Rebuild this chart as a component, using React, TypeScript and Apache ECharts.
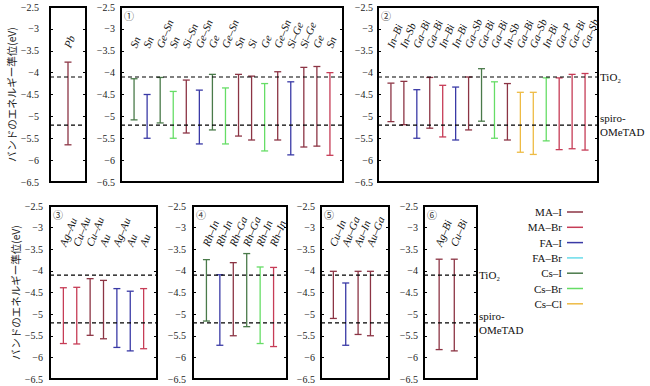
import React, { useEffect, useRef } from "react";
import * as echarts from "echarts";

// ---------- data ----------
const typeNames = ["MA-I", "MA-Br", "FA-I", "FA-Br", "Cs-I", "Cs-Br", "Cs-Cl"];
const legendLabels = ["MA–I", "MA–Br", "FA–I", "FA–Br", "Cs–I", "Cs–Br", "Cs–Cl"];
const typeColors = ["#8c3444", "#c63c56", "#3a3aa6", "#6adcea", "#4a7a4a", "#66dd66", "#eebb44"];

const yMin = -6.5;
const yMax = -2.5;
const yStep = 0.5;
const tio2Level = -4.1;
const spiroLevel = -5.2;
const labelLevel = -3.42;

const pbLabels = ["Pb"];
const pbHigh = [-3.76];
const pbLow = [-5.65];
const pbTypes = ["MA-I"];

const p1Labels = ["Sn", "Sn", "Ge–Sn", "Sn", "Si–Sn", "Ge–Sn", "Ge", "Ge–Sn", "Sn", "Si", "Ge", "Ge–Sn", "Si–Ge", "Si–Ge", "Ge", "Sn"];
const p1High = [-4.14, -4.5, -4.11, -4.43, -4.17, -4.4, -4.04, -4.35, -4.04, -4.08, -4.25, -3.98, -4.21, -3.88, -3.86, -4.0];
const p1Low = [-5.08, -5.5, -5.15, -5.5, -5.38, -5.63, -5.31, -5.63, -5.45, -5.54, -5.79, -5.54, -5.88, -5.7, -5.68, -5.89];
const p1Types = ["Cs-I", "FA-I", "Cs-I", "Cs-Br", "MA-I", "FA-I", "Cs-I", "Cs-Br", "MA-I", "MA-I", "Cs-Br", "MA-I", "FA-I", "MA-I", "MA-I", "MA-Br"];

const p2Labels = ["In–Bi", "In–Sb", "Ga–Bi", "Ga–Bi", "In–Bi", "In–Bi", "Ga–Sb", "Ga–Bi", "Ga–Bi", "In–Sb", "Ga–Bi", "Ga–Sb", "In–Bi", "Ga–P", "Ga–Bi", "Ga–Sb"];
const p2High = [-4.24, -4.2, -4.39, -4.11, -4.29, -4.33, -4.1, -3.91, -4.21, -4.25, -4.45, -4.45, -4.12, -4.12, -4.04, -4.02];
const p2Low = [-5.12, -5.19, -5.5, -5.27, -5.47, -5.54, -5.31, -5.11, -5.5, -5.54, -5.82, -5.87, -5.56, -5.76, -5.74, -5.77];
const p2Types = ["MA-I", "MA-I", "FA-I", "MA-I", "MA-Br", "FA-I", "MA-I", "Cs-I", "Cs-Br", "MA-I", "Cs-Cl", "Cs-Cl", "Cs-Br", "MA-Br", "MA-Br", "MA-Br"];

const p3Labels = ["Ag–Au", "Cu–Au", "Cu–Au", "Au", "Ag–Au", "Au", "Au"];
const p3High = [-4.39, -4.38, -4.18, -4.22, -4.41, -4.47, -4.41];
const p3Low = [-5.68, -5.69, -5.49, -5.57, -5.77, -5.85, -5.8];
const p3Types = ["MA-Br", "MA-Br", "MA-I", "MA-I", "FA-I", "FA-I", "MA-Br"];

const p4Labels = ["Rh–In", "Rh–In", "Rh–Ga", "Rh–Ga", "Rh–In", "Rh–In"];
const p4High = [-3.74, -4.09, -3.81, -3.6, -3.91, -3.92];
const p4Low = [-5.16, -5.72, -5.5, -5.29, -5.68, -5.75];
const p4Types = ["Cs-I", "FA-I", "MA-I", "Cs-I", "Cs-Br", "MA-Br"];

const p5Labels = ["Cu–In", "Au–Ga", "Au–In", "Au–Ga"];
const p5High = [-4.01, -4.28, -4.01, -4.01];
const p5Low = [-5.1, -5.72, -5.47, -5.5];
const p5Types = ["MA-I", "FA-I", "MA-I", "MA-I"];

const p6Labels = ["Ag–Bi", "Cu–Bi"];
const p6High = [-3.73, -3.73];
const p6Low = [-5.82, -5.85];
const p6Types = ["MA-I", "MA-I"];

const panelMarks = ["", "①", "②", "③", "④", "⑤", "⑥"];
const yTitle = "バンドのエネルギー準位(eV)";

// ---------- layout ----------
const gridBoxes = [
  { left: 50, top: 7, width: 36, height: 175 },
  { left: 121, top: 7, width: 222, height: 175 },
  { left: 378, top: 7, width: 220, height: 175 },
  { left: 50, top: 206, width: 107, height: 173 },
  { left: 193, top: 206, width: 94, height: 173 },
  { left: 321, top: 206, width: 68, height: 173 },
  { left: 424, top: 206, width: 53, height: 173 },
];
const xMaxes = [2, 17, 17, 8, 7, 5.5, 3.5];
const labelMargins = [11, 6, 5, 7, 7, 6, 6];
const levelLabelPanels = [2, 6];

const SERIF = "'Liberation Serif', 'DejaVu Serif', serif";
const CJK = "'Noto Sans CJK JP', sans-serif";
const LABEL_ANGLE = (68 * Math.PI) / 180;

function colorOf(t: string) {
  return typeColors[typeNames.indexOf(t)];
}

function makeRender(labels: string[], types: string[]) {
  return (params: any, api: any) => {
    const i = params.dataIndex;
    const x = api.value(0);
    const top = api.coord([x, api.value(2)]);
    const bot = api.coord([x, api.value(1)]);
    const lp = api.coord([x, labelLevel]);
    const c = colorOf(types[i]);
    const hw = 3.5;
    const ls = { stroke: c, lineWidth: 1.3 };
    return {
      type: "group",
      children: [
        { type: "line", shape: { x1: top[0], y1: top[1], x2: bot[0], y2: bot[1] }, style: ls },
        { type: "line", shape: { x1: top[0] - hw, y1: top[1], x2: top[0] + hw, y2: top[1] }, style: ls },
        { type: "line", shape: { x1: bot[0] - hw, y1: bot[1], x2: bot[0] + hw, y2: bot[1] }, style: ls },
        {
          type: "text",
          x: lp[0] - 1,
          y: lp[1],
          rotation: LABEL_ANGLE,
          style: {
            text: labels[i],
            fill: "#111",
            font: `italic 11px ${SERIF}`,
            align: "left",
            verticalAlign: "middle",
          },
        },
      ],
    };
  };
}

export default function App() {
  const ref = useRef<HTMLDivElement>(null);

  useEffect(() => {
    if (!ref.current) return;
    const chart = echarts.init(ref.current, undefined, { renderer: "svg" });

    const panels = [
      [pbLabels, pbHigh, pbLow, pbTypes],
      [p1Labels, p1High, p1Low, p1Types],
      [p2Labels, p2High, p2Low, p2Types],
      [p3Labels, p3High, p3Low, p3Types],
      [p4Labels, p4High, p4Low, p4Types],
      [p5Labels, p5High, p5Low, p5Types],
      [p6Labels, p6High, p6Low, p6Types],
    ] as [string[], number[], number[], string[]][];

    const grid = gridBoxes.map((b) => ({
      ...b,
      show: true,
      borderColor: "#000",
      borderWidth: 2,
      backgroundColor: "transparent",
      containLabel: false,
    }));

    const xAxis = xMaxes.map((m, g) => ({
      type: "value",
      gridIndex: g,
      min: 0,
      max: m,
      show: false,
    }));

    const yAxis: any[] = [];
    gridBoxes.forEach((_, g) => {
      yAxis.push({
        type: "value",
        gridIndex: g,
        position: "left",
        min: yMin,
        max: yMax,
        interval: yStep,
        axisLine: { show: false },
        axisTick: { show: true, inside: true, length: 3, lineStyle: { color: "#000", width: 1 } },
        axisLabel: {
          show: true,
          margin: labelMargins[g],
          fontFamily: SERIF,
          fontSize: 10,
          color: "#222",
          formatter: (v: number) => String(v).replace("-", "−"),
        },
        splitLine: { show: false },
        name: g === 0 || g === 3 ? yTitle : "",
        nameLocation: "middle",
        nameGap: 28,
        nameTextStyle: { fontFamily: CJK, fontSize: 10.5, color: "#222" },
      });
      yAxis.push({
        type: "value",
        gridIndex: g,
        position: "right",
        min: yMin,
        max: yMax,
        interval: yStep,
        axisLine: { show: false },
        axisTick: { show: true, inside: true, length: 3, lineStyle: { color: "#000", width: 1 } },
        axisLabel: { show: false },
        splitLine: { show: false },
      });
    });

    const series: any[] = [];
    panels.forEach(([labels, high, low, types], g) => {
      series.push({
        type: "custom",
        xAxisIndex: g,
        yAxisIndex: 2 * g,
        clip: false,
        silent: true,
        renderItem: makeRender(labels, types),
        data: labels.map((_, i) => [i + 1, low[i], high[i]]),
        encode: { x: 0, y: [1, 2] },
      });
      const withLabels = levelLabelPanels.indexOf(g) >= 0;
      [
        [tio2Level, "TiO₂"],
        [spiroLevel, "spiro-\nOMeTAD"],
      ].forEach(([lvl, txt]) => {
        series.push({
          type: "line",
          xAxisIndex: g,
          yAxisIndex: 2 * g,
          silent: true,
          symbol: "none",
          data: [
            [0, lvl],
            [xMaxes[g], lvl],
          ],
          lineStyle: { color: "#000", width: 1.2, type: [4, 3] },
          endLabel: withLabels
            ? {
                show: true,
                formatter: txt as string,
                distance: 2,
                fontFamily: SERIF,
                fontSize: 11,
                lineHeight: 14,
                color: "#111",
                align: "left",
              }
            : { show: false },
        });
      });
    });

    const graphic: any[] = [];
    panelMarks.forEach((m, g) => {
      if (!m) return;
      graphic.push({
        type: "text",
        left: gridBoxes[g].left + 3,
        top: gridBoxes[g].top + 3,
        style: { text: m, font: `10px ${CJK}`, fill: "#333" },
      });
    });
    legendLabels.forEach((name, i) => {
      const y = 212 + i * 15.3;
      graphic.push({
        type: "text",
        x: 562,
        y,
        style: { text: name, font: `11px ${SERIF}`, fill: "#111", align: "right", verticalAlign: "middle" },
      });
      graphic.push({
        type: "line",
        shape: { x1: 567, y1: y, x2: 583, y2: y },
        style: { stroke: typeColors[i], lineWidth: 1.5 },
      });
    });

    chart.setOption({
      animation: false,
      backgroundColor: "#fff",
      grid,
      xAxis,
      yAxis,
      series,
      graphic,
    });

    return () => chart.dispose();
  }, []);

  return (
    <div
      ref={ref}
      style={{ position: "absolute", left: 0, top: 0, width: 650, height: 386 }}
    />
  );
}
